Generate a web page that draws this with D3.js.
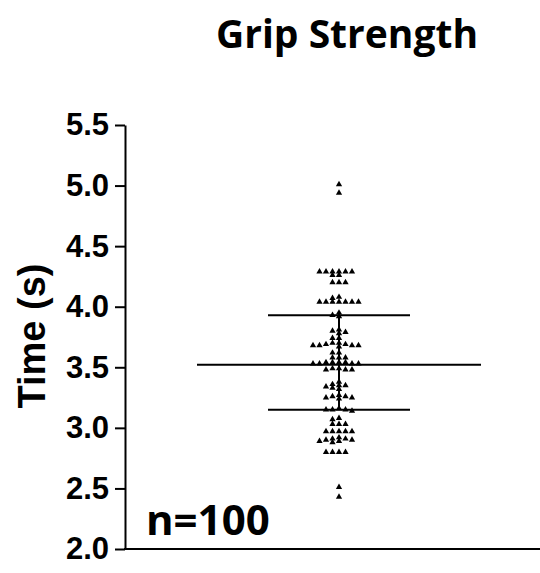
<!DOCTYPE html>
<html>
<head>
<meta charset="utf-8">
<script src="https://cdn.jsdelivr.net/npm/d3@7"></script>
<style>
  html, body { margin: 0; padding: 0; background: #fff; }
  svg { display: block; }
</style>
</head>
<body>
<svg id="chart" width="540" height="573"></svg>
<script>
// Grip strength test times (s), one value per subject
const times = [
  5.01, 4.94,
  4.29, 4.29, 4.29, 4.29, 4.29, 4.29, 4.26, 4.26,
  4.20, 4.20, 4.20,
  4.08, 4.07, 4.04, 4.04, 4.04, 4.04, 4.04, 4.04, 4.04,
  3.95, 3.93, 3.92,
  3.81, 3.80, 3.79, 3.78,
  3.74, 3.74,
  3.70, 3.69, 3.68, 3.68, 3.67, 3.68, 3.68, 3.69, 3.70,
  3.62, 3.62,
  3.58, 3.58, 3.58,
  3.54, 3.54, 3.53, 3.53, 3.54, 3.53, 3.53, 3.54,
  3.48, 3.48, 3.49, 3.48, 3.49,
  3.38, 3.36, 3.35, 3.34, 3.33, 3.35, 3.32,
  3.27, 3.26, 3.25, 3.26, 3.24, 3.25,
  3.16, 3.15, 3.15, 3.14, 3.15,
  3.08, 3.07,
  3.03, 3.03, 3.03,
  2.97, 2.97, 2.97, 2.97, 2.97,
  2.92, 2.91, 2.90, 2.89, 2.88, 2.89, 2.90, 2.91,
  2.80, 2.80, 2.80, 2.80,
  2.51, 2.43
];

// Summary lines: mean and the SD bar ends
const meanTime = [3.52];
const sdRange = [3.15, 3.93];

const yTicks = [2.0, 2.5, 3.0, 3.5, 4.0, 4.5, 5.0, 5.5];
const titleText = ["Grip Strength"];
const yLabel = ["Time (s)"];
const nLabel = ["n=" + times.length];

const svg = d3.select("#chart");

const y = d3.scaleLinear().domain([2.0, 5.5]).range([549, 125]);
// horizontal placement: -1..1 spans the mean line, the SD bars span half of it
const x = d3.scaleLinear().domain([-1, 1]).range([197, 481]);
const axisX = 125, rightX = 540;

// title
svg.append("text")
  .attr("x", 347).attr("y", 48)
  .attr("text-anchor", "middle")
  .attr("font-family", "'Open Sans', sans-serif")
  .attr("font-weight", 700)
  .attr("font-size", 39)
  .text(titleText[0]);

// y axis
const yAxis = d3.axisLeft(y)
  .tickValues(yTicks)
  .tickFormat(d3.format(".1f"))
  .tickSize(10)
  .tickPadding(6)
  .tickSizeOuter(0);

const gy = svg.append("g")
  .attr("transform", `translate(${axisX},0)`)
  .call(yAxis);
gy.select(".domain").attr("stroke", "#000").attr("stroke-width", 2);
gy.selectAll(".tick line").attr("stroke", "#000").attr("stroke-width", 2);
gy.selectAll(".tick text")
  .attr("font-family", "'Liberation Sans', Arial, sans-serif")
  .attr("font-weight", 700)
  .attr("font-size", 31)
  .attr("fill", "#000");

// x axis baseline
svg.append("line")
  .attr("x1", axisX - 1).attr("x2", rightX)
  .attr("y1", y(2.0)).attr("y2", y(2.0))
  .attr("stroke", "#000").attr("stroke-width", 2);

// y axis label
svg.append("text")
  .attr("transform", `translate(45, ${336}) rotate(-90)`)
  .attr("text-anchor", "middle")
  .attr("font-family", "'Liberation Sans', Arial, sans-serif")
  .attr("font-weight", 700)
  .attr("font-size", 38)
  .text(yLabel[0]);

// sample size label
svg.append("text")
  .attr("x", 146).attr("y", 535)
  .attr("font-family", "'Open Sans', sans-serif")
  .attr("font-weight", 700)
  .attr("font-size", 42)
  .text(nLabel[0]);

// beeswarm placement: each point sits as close to the centre as the
// rectangular footprint of the neighbouring triangles allows
const W = 6.4, H = 3.5;
const cx = x(0);
const placed = [];
[...times].sort((a, b) => b - a).forEach(v => {
  const py = y(v);
  let best = cx;
  for (let k = 0; k < 400; k++) {
    const off = (k % 2 === 0 ? 1 : -1) * Math.ceil(k / 2) * 0.5;
    const px = cx + off;
    const ok = placed.every(p => Math.abs(p.y - py) >= H || Math.abs(p.x - px) >= W);
    if (ok) { best = px; break; }
  }
  placed.push({ v, x: best, y: py });
});

// mean and SD lines
const lineG = svg.append("g").attr("stroke", "#000").attr("stroke-width", 2);
lineG.append("line")
  .attr("x1", x(-1)).attr("x2", x(1))
  .attr("y1", y(meanTime[0])).attr("y2", y(meanTime[0]));
sdRange.forEach(v => {
  lineG.append("line")
    .attr("x1", x(-0.5)).attr("x2", x(0.5))
    .attr("y1", y(v)).attr("y2", y(v));
});
lineG.append("line")
  .attr("x1", cx).attr("x2", cx)
  .attr("y1", y(sdRange[0])).attr("y2", y(sdRange[1]));

// data points
const tri = d3.symbol().type(d3.symbolTriangle).size(17);
svg.append("g").selectAll("path")
  .data(placed)
  .join("path")
  .attr("d", tri)
  .attr("transform", d => `translate(${d.x},${d.y})`)
  .attr("fill", "#000");
</script>
</body>
</html>
